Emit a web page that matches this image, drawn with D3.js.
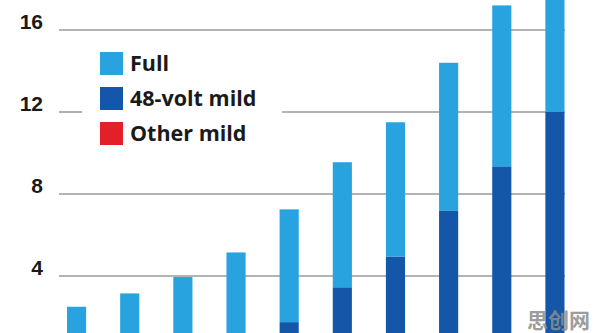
<!DOCTYPE html>
<html>
<head>
<meta charset="utf-8">
<script src="https://cdn.jsdelivr.net/npm/d3@7"></script>
<style>
  html, body { margin: 0; padding: 0; background: #fff; overflow: hidden; }
  svg { display: block; }
</style>
</head>
<body>
<svg id="chart" width="596" height="333"></svg>
<script>
// ---- data (millions of units) ----
const categories = ["2016","2017","2018","2019","2020","2021","2022","2023","2024","2025"];
const otherMild  = [0, 0, 0, 0, 0, 0, 0, 0, 0, 0];
const volt48Mild = [0, 0, 0, 0, 1.75, 3.45, 4.95, 7.2, 9.35, 12.0];
const totals     = [2.5, 3.15, 3.95, 5.15, 7.25, 9.55, 11.5, 14.4, 17.2, 19.5];
const full       = totals.map((t, i) => +(t - volt48Mild[i] - otherMild[i]).toFixed(2));
const yTicks     = [4, 8, 12, 16];
const seriesKeys = ["otherMild", "volt48Mild", "full"];
const legendItems = [
  { key: "full", label: "Full" },
  { key: "volt48Mild", label: "48-volt mild" },
  { key: "otherMild", label: "Other mild" }
];
const colors = { full: "#28a3df", volt48Mild: "#1456a8", otherMild: "#e3202a" };

const rows = categories.map((c, i) => ({
  cat: c, otherMild: otherMild[i], volt48Mild: volt48Mild[i], full: full[i]
}));

const svg = d3.select("#chart");

const y = d3.scaleLinear().domain([0, 16]).range([358, 30]);
const x = d3.scaleBand().domain(categories)
  .range([67, 564.5]).paddingInner(0.64).paddingOuter(0);

// gridlines
const grid = svg.append("g");
yTicks.forEach(t => {
  if (t === 12) {
    grid.append("line").attr("x1", 59).attr("x2", 82)
      .attr("y1", y(t)).attr("y2", y(t));
    grid.append("line").attr("x1", 282).attr("x2", 565)
      .attr("y1", y(t)).attr("y2", y(t));
  } else {
    grid.append("line").attr("x1", 59).attr("x2", 565)
      .attr("y1", y(t)).attr("y2", y(t));
  }
});
grid.selectAll("line").attr("stroke", "#9a9a9a").attr("stroke-width", 1.6);

// y tick labels
svg.append("g").selectAll("text").data(yTicks).join("text")
  .attr("x", 43).attr("y", d => y(d) - 1)
  .attr("text-anchor", "end")
  .attr("font-family", "'Liberation Sans Narrow', 'Arial Narrow', 'Liberation Sans', sans-serif")
  .attr("font-weight", "bold")
  .attr("font-size", 21)
  .attr("fill", "#1a1a1a")
  .text(d => d);

// stacked bars
const stack = d3.stack().keys(seriesKeys)(rows);
svg.append("g").selectAll("g").data(stack).join("g")
  .attr("fill", d => colors[d.key])
  .selectAll("rect").data(d => d).join("rect")
  .attr("x", d => x(d.data.cat))
  .attr("width", x.bandwidth())
  .attr("y", d => y(d[1]))
  .attr("height", d => Math.max(0, y(d[0]) - y(d[1])));

// legend
const lg = svg.append("g");
legendItems.forEach((item, i) => {
  const yy = 52 + i * 35;
  lg.append("rect").attr("x", 100).attr("y", yy).attr("width", 23).attr("height", 23)
    .attr("fill", colors[item.key]);
  lg.append("text").attr("x", 130).attr("y", yy + 18.5)
    .attr("font-family", "'Open Sans', 'Liberation Sans', sans-serif")
    .attr("font-weight", "bold")
    .attr("font-size", 21.5)
    .attr("fill", "#1a1a1a")
    .text(item.label);
});

// watermark
svg.append("text").attr("x", 590).attr("y", 328)
  .attr("text-anchor", "end")
  .attr("font-family", "'Noto Sans CJK SC', sans-serif")
  .attr("font-weight", "bold")
  .attr("font-size", 21)
  .attr("fill", "#8c8c8c")
  .attr("opacity", 0.85)
  .text("思创网");
</script>
</body>
</html>
